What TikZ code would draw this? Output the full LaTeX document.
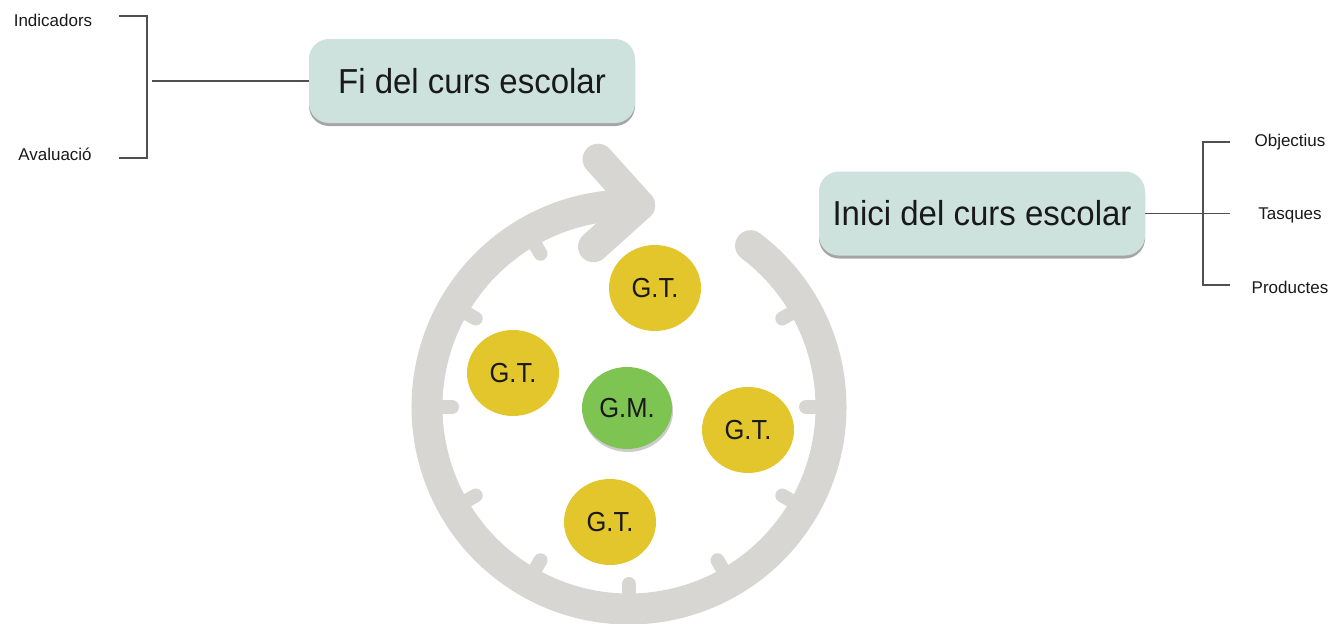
\documentclass[tikz,border=0pt]{standalone}
\usepackage{fontspec}
\setmainfont{Liberation Sans}
\usetikzlibrary{shapes.geometric,shadows}
\definecolor{ringgray}{RGB}{215,214,210}
\definecolor{gtyellow}{RGB}{226,198,44}
\definecolor{gmgreen}{RGB}{125,196,82}
\definecolor{boxfill}{RGB}{205,226,220}
\definecolor{linegray}{RGB}{80,80,80}
\definecolor{txt}{RGB}{25,25,25}
\newcommand{\vst}[2]{\scalebox{1}[#1]{#2}}
\begin{document}
\begin{tikzpicture}[x=1pt,y=1pt,
  ringline/.style={draw=ringgray, line width=31pt},
  tickline/.style={draw=ringgray, line width=14pt, line cap=round},
  conn/.style={draw=linegray, line width=1.6pt},
  smalltext/.style={font=\fontsize{17}{17}\selectfont, text=txt, inner sep=0pt},
  phasebox/.style={rectangle, rounded corners=20pt, fill=boxfill, minimum width=326pt, minimum height=84pt, inner sep=0pt, text=txt, font=\fontsize{33}{33}\selectfont, drop shadow={shadow xshift=0pt, shadow yshift=-3pt, fill=black!70, opacity=0.5}},
  gt/.style={ellipse, fill=gtyellow, minimum width=92pt, minimum height=86pt, inner sep=0pt, text=txt, font=\fontsize{25.5}{25.5}\selectfont},
  gmstyle/.style={gt, fill=gmgreen, minimum width=90pt, minimum height=82pt, drop shadow={shadow xshift=1pt, shadow yshift=-3pt, fill=black!50, opacity=0.4}}]
\useasboundingbox (0,0) rectangle (1334,-624);

% ring
\coordinate (C) at (629,-407);
\coordinate (T) at ([shift={(87:202)}]C);
\draw[ringline, line cap=round] ([shift={(53:202)}]C) arc[start angle=53, end angle=-273, radius=202];
\draw[ringline, line cap=round, line join=round] ([shift={(132:62)}]T) -- (T) -- ([shift={(-138:62)}]T);
\foreach \a in {30,0,-30,-60,-90,-120,-150,-180,-210,-240}
  \draw[tickline] ([shift={(\a:190)}]C) -- ([shift={(\a:177)}]C);

% groups
\node[gt] (gt1) at (655,-288) {\vst{1.08}{G.T.}};
\node[gt] (gt2) at (513,-373) {\vst{1.08}{G.T.}};
\node[gmstyle] (gm) at (627,-408) {\vst{1.08}{G.M.}};
\node[gt] (gt3) at (748,-430) {\vst{1.08}{G.T.}};
\node[gt] (gt4) at (610,-522) {\vst{1.08}{G.T.}};

% phase boxes
\node[phasebox] (fi) at (472,-81) {\vst{1.05}{Fi del curs escolar}};
\node[phasebox] (ini) at (982,-213.5) {\vst{1.05}{Inici del curs escolar}};

% left labels and bracket
\node[smalltext] (ind) at (53,-20) {Indicadors};
\node[smalltext] (ava) at (55,-154) {Avaluació};
\coordinate (lt1) at (119,-16);
\coordinate (lt2) at (147,-16);
\coordinate (lb2) at (147,-158);
\coordinate (lb1) at (119,-158);
\coordinate (lm) at (152,-81);
\draw[conn] (lt1) -- (lt2) -- (lb2) -- (lb1);
\draw[conn] (fi.west) -- (lm);

% right labels and bracket
\node[smalltext] (obj) at (1290,-142) {Objectius};
\node[smalltext] (tas) at (1290,-215) {Tasques};
\node[smalltext] (pro) at (1290,-287) {Productes};
\coordinate (rt1) at (1230,-142);
\coordinate (rt2) at (1203,-142);
\coordinate (rb2) at (1203,-285);
\coordinate (rb1) at (1230,-285);
\coordinate (rm) at (1230,-213.5);
\draw[conn, line width=1.3pt] (rt1) -- (rt2) -- (rb2) -- (rb1);
\draw[conn, line width=1.3pt] (ini.east) -- (rm);
\end{tikzpicture}
\end{document}
